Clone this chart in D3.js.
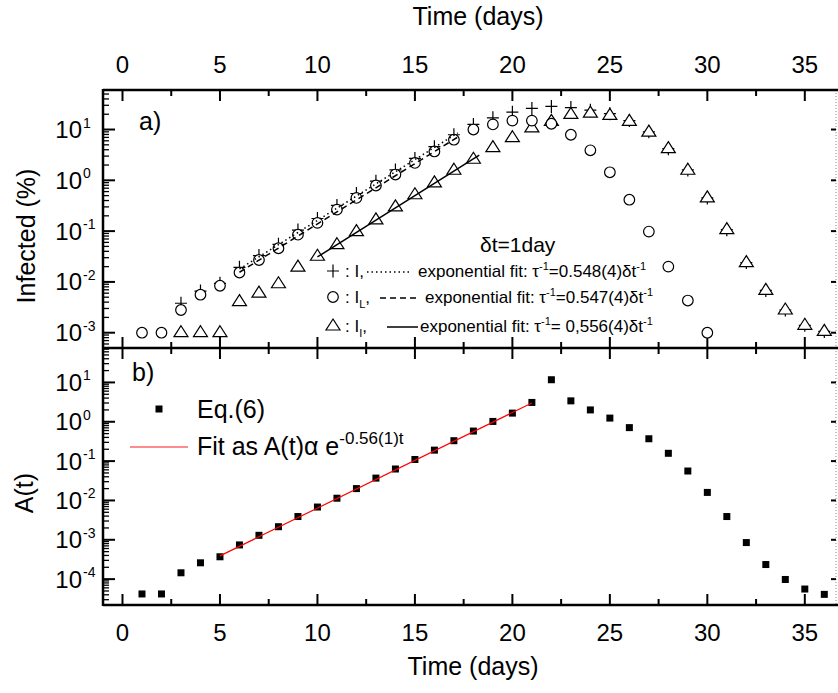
<!DOCTYPE html>
<html>
<head>
<meta charset="utf-8">
<script src="https://cdn.jsdelivr.net/npm/d3@7"></script>
<style>
  body { margin: 0; background: #fff; }
  text { font-family: Arial, "Liberation Sans", sans-serif; fill: #000; }
</style>
</head>
<body>
<script>
// ---- data ----
const daysL = [1, 2, 3, 4, 5, 6, 7, 8, 9, 10, 11, 12, 13, 14, 15, 16, 17, 18, 19, 20, 21, 22, 23, 24, 25, 26, 27, 28, 29, 30];
const infectedL = [1e-3, 1e-3, 2.8e-3, 5.6e-3, 8.4e-3, 0.0153, 0.027, 0.046, 0.085, 0.145, 0.265, 0.45, 0.79, 1.3, 2.2, 3.7, 6.3, 10, 12.6, 15, 15, 13, 7.9, 3.9, 1.44, 0.415, 0.098, 0.02, 0.0043, 0.001];

const daysI = [3, 4, 5, 6, 7, 8, 9, 10, 11, 12, 13, 14, 15, 16, 17, 18, 19, 20, 21, 22, 23, 24, 25, 26, 27, 28, 29, 30, 31, 32, 33, 34, 35, 36];
const infectedI = [1e-3, 1e-3, 1e-3, 4.1e-3, 6e-3, 9.2e-3, 0.0196, 0.032, 0.054, 0.098, 0.167, 0.30, 0.52, 0.89, 1.58, 2.6, 4.4, 6.9, 10.8, 14.5, 19.8, 21, 19, 14.5, 8.9, 4.2, 1.58, 0.45, 0.107, 0.024, 6.8e-3, 2.8e-3, 1.4e-3, 1.06e-3];
const infectedTotal = [3.8e-3, 6.6e-3, 9.4e-3, 0.0194, 0.033, 0.055, 0.105, 0.177, 0.32, 0.55, 0.96, 1.6, 2.7, 4.6, 7.9, 12.6, 17, 22, 26, 28.5, 27, 24, 20.5, 15, 9, 4.2, 1.6, 0.45, 0.107, 0.024, 6.8e-3, 2.8e-3, 1.4e-3, 1.06e-3];

const daysA = [1, 2, 3, 4, 5, 6, 7, 8, 9, 10, 11, 12, 13, 14, 15, 16, 17, 18, 19, 20, 21, 22, 23, 24, 25, 26, 27, 28, 29, 30, 31, 32, 33, 34, 35, 36];
const eq6 = [4.2e-5, 4.2e-5, 1.45e-4, 2.6e-4, 3.7e-4, 7.4e-4, 1.3e-3, 2.15e-3, 3.9e-3, 6.8e-3, 0.0114, 0.020, 0.037, 0.063, 0.11, 0.19, 0.33, 0.58, 1.02, 1.66, 3.1, 11.7, 3.4, 2.0, 1.24, 0.71, 0.37, 0.158, 0.056, 0.016, 3.9e-3, 8.5e-4, 2.35e-4, 9.8e-5, 5.6e-5, 4.1e-5];

// fit lines: [day, value] at both ends
const fitTotal = [[6, 0.018], [17.2, 8.6]];
const fitL = [[6, 0.0155], [17.2, 7.1]];
const fitI = [[10, 0.031], [18.3, 3.13]];
const fitA = [[5, 3.9e-4], [21, 3.0]];

const xMajor = [0, 5, 10, 15, 20, 25, 30, 35];
const xMinor = [2.5, 7.5, 12.5, 17.5, 22.5, 27.5, 32.5];
const yTicksA = [1e-3, 1e-2, 1e-1, 1, 10];
const yTicksB = [1e-4, 1e-3, 1e-2, 1e-1, 1, 10];

// ---- layout ----
const W = 838, H = 693;
const left = 103, right = 836;
const aTop = 90, mid = 348, bBottom = 605;

const svg = d3.select('body').append('svg')
  .attr('width', W)
  .attr('height', H);

const x = d3.scaleLinear().domain([-1, 36.6]).range([left, right]);
const yA = d3.scaleLog().domain([5e-4, 60]).range([mid, aTop]);
const yB = d3.scaleLog().domain([2.2e-5, 75]).range([bBottom, mid]);

function minors(domain) {
  const out = [];
  for (let e = -7; e <= 3; e++) {
    for (let k = 2; k <= 9; k++) {
      const v = k * Math.pow(10, e);
      if (v > domain[0] && v < domain[1]) out.push(v);
    }
  }
  return out;
}

// horizontal axis ticks (dir: 1 = downward, -1 = upward)
function xTicks(y0, dir) {
  svg.selectAll(null).data(xMajor).enter().append('line')
    .attr('x1', d => x(d)).attr('x2', d => x(d))
    .attr('y1', y0).attr('y2', y0 + dir * 11)
    .attr('stroke', '#000').attr('stroke-width', 2);
  svg.selectAll(null).data(xMinor).enter().append('line')
    .attr('x1', d => x(d)).attr('x2', d => x(d))
    .attr('y1', y0).attr('y2', y0 + dir * 6)
    .attr('stroke', '#000').attr('stroke-width', 2);
}

function yAxis(y, majors) {
  const dom = y.domain();
  svg.selectAll(null).data(majors).enter().append('line')
    .attr('x1', left).attr('x2', left + 12)
    .attr('y1', d => y(d)).attr('y2', d => y(d))
    .attr('stroke', '#000').attr('stroke-width', 2);
  svg.selectAll(null).data(minors(dom)).enter().append('line')
    .attr('x1', left).attr('x2', left + 6)
    .attr('y1', d => y(d)).attr('y2', d => y(d))
    .attr('stroke', '#000').attr('stroke-width', 1.3);
  // right side (dotted frame)
  svg.selectAll(null).data(majors).enter().append('line')
    .attr('x1', right - 5).attr('x2', right)
    .attr('y1', d => y(d)).attr('y2', d => y(d))
    .attr('stroke', '#000').attr('stroke-width', 2);
  // labels
  majors.forEach(v => {
    const e = Math.round(Math.log10(v));
    svg.append('text')
      .attr('x', 82).attr('y', y(v) + 8.5)
      .attr('text-anchor', 'end')
      .style('font-size', '24px')
      .text('10');
    svg.append('text')
      .attr('x', 83).attr('y', y(v) - 2)
      .style('font-size', '14px')
      .text(e);
  });
}

// frame
svg.append('line').attr('x1', right).attr('x2', right).attr('y1', aTop).attr('y2', bBottom)
  .attr('stroke', '#888').attr('stroke-width', 1).attr('stroke-dasharray', '1,2');
svg.append('line').attr('x1', left).attr('x2', left).attr('y1', aTop - 1).attr('y2', bBottom + 1)
  .attr('stroke', '#000').attr('stroke-width', 2.5);
[aTop, mid, bBottom].forEach(yy => {
  svg.append('line').attr('x1', left).attr('x2', W).attr('y1', yy).attr('y2', yy)
    .attr('stroke', '#000').attr('stroke-width', 2.5);
});

xTicks(aTop, 1);
xTicks(mid, -1);
xTicks(mid, 1);
xTicks(bBottom, -1);
yAxis(yA, yTicksA);
yAxis(yB, yTicksB);

// x tick labels
svg.selectAll(null).data(xMajor).enter().append('text')
  .attr('x', d => x(d)).attr('y', 73)
  .attr('text-anchor', 'middle').style('font-size', '24px')
  .text(d => d);
svg.selectAll(null).data(xMajor).enter().append('text')
  .attr('x', d => x(d)).attr('y', 641)
  .attr('text-anchor', 'middle').style('font-size', '24px')
  .text(d => d);

// axis titles
svg.append('text').attr('x', 478).attr('y', 25).attr('text-anchor', 'middle')
  .style('font-size', '25px').text('Time (days)');
svg.append('text').attr('x', 473).attr('y', 675).attr('text-anchor', 'middle')
  .style('font-size', '25px').text('Time (days)');
svg.append('text').attr('transform', 'translate(35,236) rotate(-90)').attr('text-anchor', 'middle')
  .style('font-size', '25px').text('Infected (%)');
svg.append('text').attr('transform', 'translate(33,493) rotate(-90)').attr('text-anchor', 'middle')
  .style('font-size', '25px').text('A(t)');

svg.append('text').attr('x', 139).attr('y', 130).style('font-size', '25px').text('a)');
svg.append('text').attr('x', 132).attr('y', 381).style('font-size', '25px').text('b)');

// ---- marks ----
const lineA = d3.line().x(d => x(d[0])).y(d => yA(d[1]));
const lineB = d3.line().x(d => x(d[0])).y(d => yB(d[1]));

const triPath = 'M0,-7L7,4L-7,4Z';
const plusPath = 'M-6,0H6M0,-6.5V6.5';

// pluses first, open markers (white filled) drawn over them
svg.selectAll(null).data(daysI).enter().append('path')
  .attr('transform', (d, i) => `translate(${x(d)},${yA(infectedTotal[i])})`)
  .attr('d', plusPath)
  .attr('fill', 'none').attr('stroke', '#000').attr('stroke-width', 1.2);
svg.selectAll(null).data(daysI).enter().append('path')
  .attr('transform', (d, i) => `translate(${x(d)},${yA(infectedI[i])})`)
  .attr('d', triPath)
  .attr('fill', '#fff').attr('stroke', '#000').attr('stroke-width', 1.2);
svg.selectAll(null).data(daysL).enter().append('circle')
  .attr('cx', d => x(d)).attr('cy', (d, i) => yA(infectedL[i])).attr('r', 5.3)
  .attr('fill', '#fff').attr('stroke', '#000').attr('stroke-width', 1.2);

// fit lines on top of the markers
svg.append('path').attr('d', lineA(fitTotal)).attr('fill', 'none')
  .attr('stroke', '#000').attr('stroke-width', 1.5).attr('stroke-dasharray', '1.5,3');
svg.append('path').attr('d', lineA(fitL)).attr('fill', 'none')
  .attr('stroke', '#000').attr('stroke-width', 1.5).attr('stroke-dasharray', '6,4');
svg.append('path').attr('d', lineA(fitI)).attr('fill', 'none')
  .attr('stroke', '#000').attr('stroke-width', 1.5);

svg.selectAll(null).data(daysA).enter().append('rect')
  .attr('x', d => x(d) - 3.5).attr('y', (d, i) => yB(eq6[i]) - 3.5)
  .attr('width', 7).attr('height', 7).attr('fill', '#000');
svg.append('path').attr('d', lineB(fitA)).attr('fill', 'none')
  .attr('stroke', '#f00').attr('stroke-width', 1.2);

// ---- legend a ----
svg.append('text').attr('x', 480).attr('y', 252).style('font-size', '21px').text('δt=1day');

function fitText(tx, ty, value) {
  const t = svg.append('text').attr('x', tx).attr('y', ty).style('font-size', '17px');
  t.append('tspan').text('exponential fit: τ');
  t.append('tspan').attr('dy', -7).style('font-size', '11px').text('-1');
  t.append('tspan').attr('dy', 7).text(value + 'δt');
  t.append('tspan').attr('dy', -7).style('font-size', '11px').text('-1');
}
function nameText(tx, ty, sub) {
  const t = svg.append('text').attr('x', tx).attr('y', ty).style('font-size', '17px');
  t.append('tspan').text(': I');
  if (sub) {
    t.append('tspan').attr('dy', 5).style('font-size', '11px').text(sub);
    t.append('tspan').attr('dy', -5).text(',');
  } else {
    t.append('tspan').text(',');
  }
}

svg.append('path').attr('transform', 'translate(333,271)').attr('d', plusPath)
  .attr('fill', 'none').attr('stroke', '#000').attr('stroke-width', 1.2);
nameText(345, 277, null);
svg.append('line').attr('x1', 367).attr('x2', 410).attr('y1', 272).attr('y2', 272)
  .attr('stroke', '#000').attr('stroke-width', 1.5).attr('stroke-dasharray', '1.5,3');
fitText(418, 277, '=0.548(4)');

svg.append('circle').attr('cx', 333).attr('cy', 297).attr('r', 5.3)
  .attr('fill', '#fff').attr('stroke', '#000').attr('stroke-width', 1.2);
nameText(345, 303, 'L');
svg.append('line').attr('x1', 380).attr('x2', 416).attr('y1', 298).attr('y2', 298)
  .attr('stroke', '#000').attr('stroke-width', 1.5).attr('stroke-dasharray', '6,4');
fitText(425, 303, '=0.547(4)');

svg.append('path').attr('transform', 'translate(333,326)').attr('d', triPath)
  .attr('fill', '#fff').attr('stroke', '#000').attr('stroke-width', 1.2);
nameText(345, 332, 'I');
svg.append('line').attr('x1', 387).attr('x2', 418).attr('y1', 327).attr('y2', 327)
  .attr('stroke', '#000').attr('stroke-width', 1.5);
fitText(420, 332, '= 0,556(4)');

// ---- legend b ----
svg.append('rect').attr('x', 155.5).attr('y', 405.5).attr('width', 7).attr('height', 7).attr('fill', '#000');
svg.append('text').attr('x', 197).attr('y', 418).style('font-size', '25px').text('Eq.(6)');
svg.append('line').attr('x1', 130).attr('x2', 188).attr('y1', 447).attr('y2', 447)
  .attr('stroke', '#f66').attr('stroke-width', 1.5);
const ft = svg.append('text').attr('x', 197).attr('y', 455).style('font-size', '25px');
ft.append('tspan').text('Fit as A(t)α e');
ft.append('tspan').attr('dy', -11).style('font-size', '17px').text('-0.56(1)t');
</script>
</body>
</html>
